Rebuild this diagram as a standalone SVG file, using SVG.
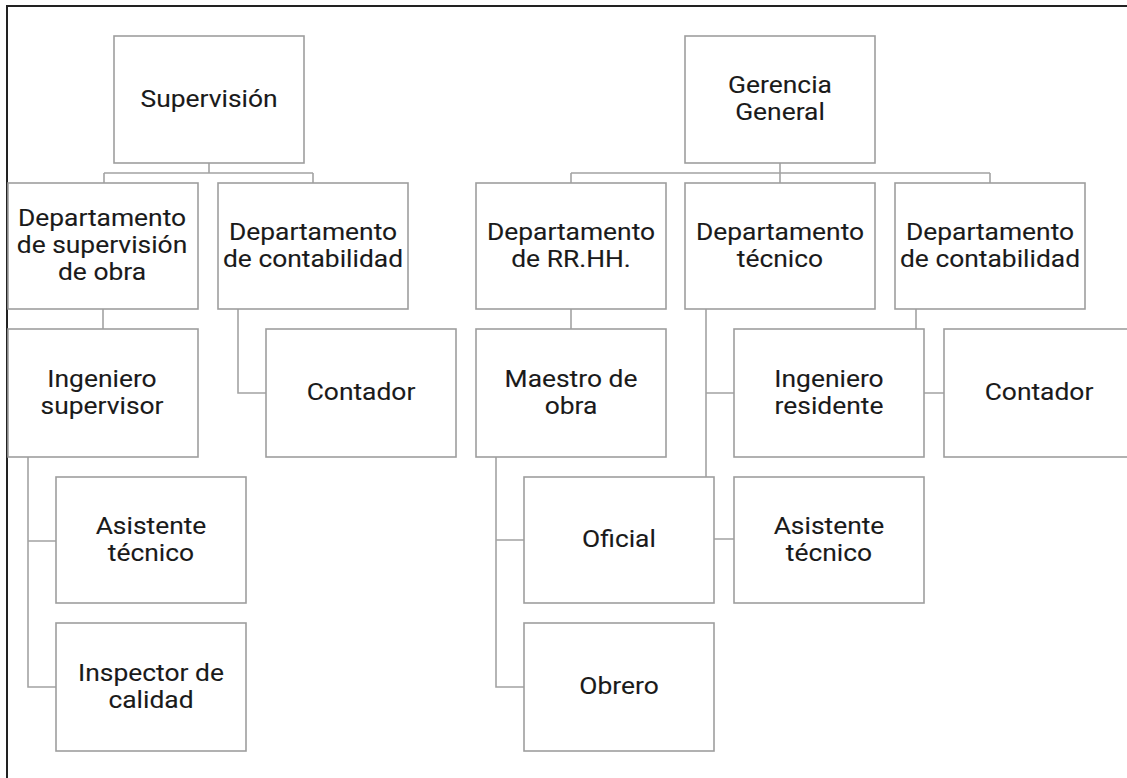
<svg xmlns="http://www.w3.org/2000/svg" width="1127" height="778" viewBox="0 0 1127 778">
<style>
.box{fill:#fff;stroke:#9e9e9e;stroke-width:1.6}
.con{fill:none;stroke:#a3a3a3;stroke-width:1.6}
.t{font-family:Roboto,"Liberation Sans",sans-serif;font-size:24px;fill:#1a1a1a;text-anchor:middle;stroke:#1a1a1a;stroke-width:0.1}
</style>
<rect x="0" y="0" width="1127" height="778" fill="#fff"/>
<path d="M7,778 V6 H1127" fill="none" stroke="#222" stroke-width="2"/>
<g id="connectors" class="con">
<path d="M209,163 V173 M104,173 H313 M104,173 V183 M313,173 V183"/>
<path d="M103,309 V329"/>
<path d="M238,309 V393 H266"/>
<path d="M28,457 V687 H56 M28,541 H56"/>
<path d="M780,163 V173 M571,173 H990 M571,173 V183 M780,173 V183 M990,173 V183"/>
<path d="M571,309 V329"/>
<path d="M706,309 V539 H734 M706,393 H734"/>
<path d="M916,309 V393 H944"/>
<path d="M496,457 V687 H524 M496,540 H524"/>
</g>
<g id="supervision"><rect class="box" x="114" y="36" width="190" height="127"/>
<text class="t" transform="translate(209,0) scale(1.1,1)"><tspan x="0" y="107">Supervisión</tspan></text></g>
<g id="dep-sup-obra"><rect class="box" x="8" y="183" width="190" height="126"/>
<text class="t" transform="translate(102,0) scale(1.1,1)"><tspan x="0" y="226.5">Departamento</tspan><tspan x="0" y="253.5">de supervisión</tspan><tspan x="0" y="280.5">de obra</tspan></text></g>
<g id="dep-cont-l"><rect class="box" x="218" y="183" width="190" height="126"/>
<text class="t" transform="translate(313,0) scale(1.1,1)"><tspan x="0" y="240">Departamento</tspan><tspan x="0" y="267">de contabilidad</tspan></text></g>
<g id="ing-sup"><rect class="box" x="8" y="329" width="190" height="128"/>
<text class="t" transform="translate(102,0) scale(1.1,1)"><tspan x="0" y="387">Ingeniero</tspan><tspan x="0" y="414">supervisor</tspan></text></g>
<g id="contador-l"><rect class="box" x="266" y="329" width="190" height="128"/>
<text class="t" transform="translate(361,0) scale(1.1,1)"><tspan x="0" y="400">Contador</tspan></text></g>
<g id="asist-l"><rect class="box" x="56" y="477" width="190" height="126"/>
<text class="t" transform="translate(151,0) scale(1.1,1)"><tspan x="0" y="534">Asistente</tspan><tspan x="0" y="561">técnico</tspan></text></g>
<g id="inspector"><rect class="box" x="56" y="623" width="190" height="128"/>
<text class="t" transform="translate(151,0) scale(1.1,1)"><tspan x="0" y="681">Inspector de</tspan><tspan x="0" y="708">calidad</tspan></text></g>
<g id="gerencia"><rect class="box" x="685" y="36" width="190" height="127"/>
<text class="t" transform="translate(780,0) scale(1.1,1)"><tspan x="0" y="93">Gerencia</tspan><tspan x="0" y="120">General</tspan></text></g>
<g id="dep-rrhh"><rect class="box" x="476" y="183" width="190" height="126"/>
<text class="t" transform="translate(571,0) scale(1.1,1)"><tspan x="0" y="240">Departamento</tspan><tspan x="0" y="267">de RR.HH.</tspan></text></g>
<g id="dep-tec"><rect class="box" x="685" y="183" width="190" height="126"/>
<text class="t" transform="translate(780,0) scale(1.1,1)"><tspan x="0" y="240">Departamento</tspan><tspan x="0" y="267">técnico</tspan></text></g>
<g id="dep-cont-r"><rect class="box" x="895" y="183" width="190" height="126"/>
<text class="t" transform="translate(990,0) scale(1.1,1)"><tspan x="0" y="240">Departamento</tspan><tspan x="0" y="267">de contabilidad</tspan></text></g>
<g id="maestro"><rect class="box" x="476" y="329" width="190" height="128"/>
<text class="t" transform="translate(571,0) scale(1.1,1)"><tspan x="0" y="387">Maestro de</tspan><tspan x="0" y="414">obra</tspan></text></g>
<g id="ing-res"><rect class="box" x="734" y="329" width="190" height="128"/>
<text class="t" transform="translate(829,0) scale(1.1,1)"><tspan x="0" y="387">Ingeniero</tspan><tspan x="0" y="414">residente</tspan></text></g>
<g id="contador-r"><rect class="box" x="944" y="329" width="190" height="128"/>
<text class="t" transform="translate(1039,0) scale(1.1,1)"><tspan x="0" y="400">Contador</tspan></text></g>
<g id="oficial"><rect class="box" x="524" y="477" width="190" height="126"/>
<text class="t" transform="translate(619,0) scale(1.1,1)"><tspan x="0" y="547">Oficial</tspan></text></g>
<g id="asist-r"><rect class="box" x="734" y="477" width="190" height="126"/>
<text class="t" transform="translate(829,0) scale(1.1,1)"><tspan x="0" y="534">Asistente</tspan><tspan x="0" y="561">técnico</tspan></text></g>
<g id="obrero"><rect class="box" x="524" y="623" width="190" height="128"/>
<text class="t" transform="translate(619,0) scale(1.1,1)"><tspan x="0" y="694">Obrero</tspan></text></g>
</svg>
